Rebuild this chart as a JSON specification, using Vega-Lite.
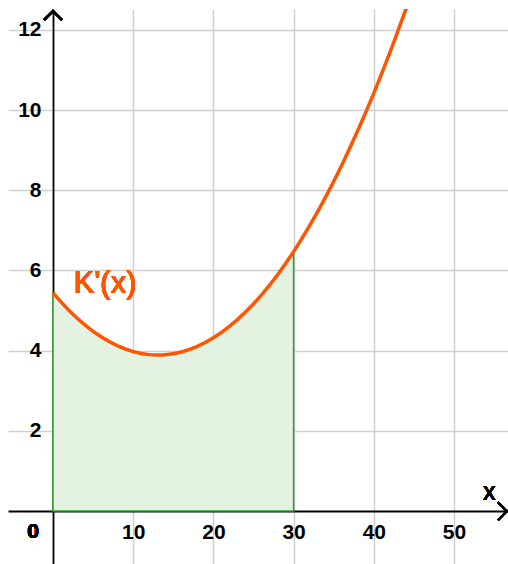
{
  "$schema": "https://vega.github.io/schema/vega-lite/v6.json",
  "width": 500,
  "height": 555,
  "autosize": "none",
  "padding": {"left": 8, "top": 9, "right": 0, "bottom": 0},
  "background": "white",
  "config": {
    "view": {"stroke": null},
    "font": "Arial",
    "axis": {
      "title": null, "grid": true, "gridColor": "#d0d0d0", "gridWidth": 1.5, "ticks": false,
      "domainColor": "black", "domainWidth": 1.8,
      "labelFont": "Arial", "labelFontSize": 21, "labelFontWeight": "bold", "labelColor": "black",
      "labelFlush": false, "labelOverlap": false
    }
  },
  "data": {"values": [
    {"x": 0, "y": 5.44}, {"x": 2, "y": 5.003}, {"x": 4, "y": 4.638}, {"x": 6, "y": 4.345},
    {"x": 8, "y": 4.125}, {"x": 10, "y": 3.977}, {"x": 12, "y": 3.901}, {"x": 13.1, "y": 3.89},
    {"x": 14, "y": 3.897}, {"x": 16, "y": 3.966}, {"x": 18, "y": 4.107}, {"x": 20, "y": 4.32},
    {"x": 22, "y": 4.605}, {"x": 24, "y": 4.963}, {"x": 26, "y": 5.393}, {"x": 28, "y": 5.895},
    {"x": 30, "y": 6.469}, {"x": 32, "y": 7.116}, {"x": 34, "y": 7.834}, {"x": 36, "y": 8.625},
    {"x": 38, "y": 9.489}, {"x": 40, "y": 10.424}, {"x": 42, "y": 11.432}, {"x": 44, "y": 12.512},
    {"x": 44.2, "y": 12.615}
  ]},
  "layer": [
    {
      "transform": [{"filter": "datum.x <= 30"}],
      "mark": {"type": "area", "fill": "#e4f2e2", "stroke": "#26a326", "strokeWidth": 1.5, "interpolate": "monotone"},
      "encoding": {
        "x": {"field": "x", "type": "quantitative",
          "scale": {"domain": [-5.61, 56.73], "nice": false, "zero": false},
          "axis": {"orient": "bottom", "offset": -53, "values": [10, 20, 30, 40, 50], "labelPadding": 10}},
        "y": {"field": "y", "type": "quantitative",
          "scale": {"domain": [-1.32, 12.52], "nice": false, "zero": false},
          "axis": {"orient": "left", "offset": -45, "values": [2, 4, 6, 8, 10, 12], "labelPadding": 12}},
        "y2": {"datum": 0}
      }
    },
    {
      "mark": {"type": "line", "color": "#ff5500", "strokeWidth": 3.5, "interpolate": "monotone", "clip": true},
      "encoding": {
        "x": {"field": "x", "type": "quantitative"},
        "y": {"field": "y", "type": "quantitative"}
      }
    },
    {
      "mark": {"type": "point", "shape": "M-1,1L0,0L1,1", "filled": false, "stroke": "black", "strokeWidth": 1.8, "size": 324, "opacity": 1},
      "encoding": {"x": {"datum": 0}, "y": {"datum": 12.47}}
    },
    {
      "mark": {"type": "point", "shape": "M-1,-1L0,0L-1,1", "filled": false, "stroke": "black", "strokeWidth": 1.8, "size": 324, "opacity": 1},
      "encoding": {"x": {"datum": 56.6}, "y": {"datum": 0}}
    },
    {
      "mark": {"type": "text", "text": "0", "font": "Arial", "fontSize": 21, "fontWeight": "bold", "fill": "black", "strokeWidth": 0, "dx": -20, "dy": 21},
      "encoding": {"x": {"datum": 0}, "y": {"datum": 0}}
    },
    {
      "mark": {"type": "text", "text": "x", "font": "Arial", "fontSize": 25, "fontWeight": "normal", "fill": "black", "strokeWidth": 0, "dy": -19},
      "encoding": {"x": {"datum": 54.4}, "y": {"datum": 0}}
    },
    {
      "mark": {"type": "text", "text": "K'(x)", "font": "Arial", "fontSize": 31, "fontWeight": "normal", "fill": "#ff5500", "strokeWidth": 0},
      "encoding": {"x": {"datum": 6.5}, "y": {"datum": 5.66}}
    }
  ]
}
